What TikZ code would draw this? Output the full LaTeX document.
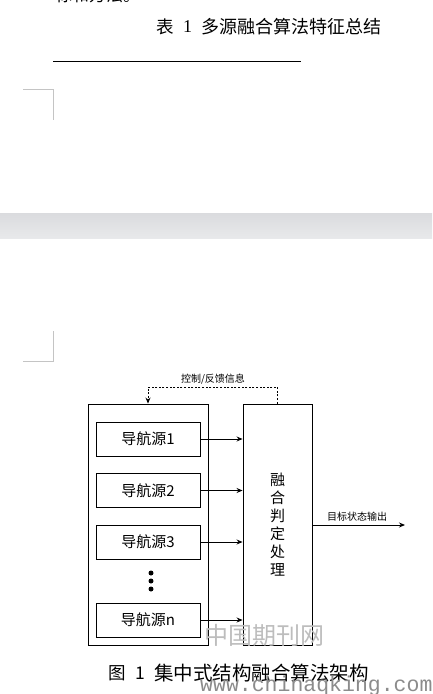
\documentclass[tikz,border=0pt]{standalone}
\usepackage{fontspec}
\setmainfont{Liberation Sans}
\newfontfamily\cjk{Noto Sans CJK SC}
\newfontfamily\wmono{Liberation Mono}
\newfontfamily\serifm{Liberation Serif}
\usetikzlibrary{arrows.meta}
\newcommand{\fsz}[1]{\fontsize{#1}{#1}\selectfont}
\definecolor{markgray}{HTML}{C4C4C4}
\definecolor{bandtop}{HTML}{DADBDE}
\definecolor{bandbot}{HTML}{E8E9EB}
\definecolor{wmgray}{HTML}{BDBDBD}
\definecolor{wmdark}{HTML}{8C8C8C}
\tikzset{
  srcbox/.style={draw=black, line width=0.9pt, minimum width=104pt, minimum height=34pt, inner sep=0pt, font=\cjk\fsz{15}},
  bigbox/.style={draw=black, line width=0.9pt, inner sep=0pt},
  arr/.style={line width=0.9pt, -{Stealth[length=6pt,width=5pt]}},
  fb/.style={line width=0.8pt, dash pattern=on 2pt off 1.6pt, -{Stealth[length=6pt,width=5pt]}},
  cornermark/.style={draw=markgray, line width=1pt},
  lbl/.style={font=\cjk\fsz{10}, inner sep=0pt},
  dotnode/.style={circle, fill=black, minimum size=5pt, inner sep=0pt},
}
\begin{document}
\begin{tikzpicture}[x=1pt,y=-1pt]
\useasboundingbox[fill=white] (0,0) rectangle (432,694);
% cropped text at top
\node[anchor=west, inner sep=0pt, font=\cjk\fsz{17}] (toptext) at (55,-5) {标和方法。};
% table title
\node[anchor=west, inner sep=0pt, font=\cjk\fsz{17.5}] (tt1) at (156,27) {表};
\node[anchor=west, inner sep=0pt, font=\serifm\fsz{18}] (tt2) at (183,27) {1};
\node[anchor=west, inner sep=0pt, font=\cjk\fsz{18}] (tt3) at (201,27) {多源融合算法特征总结};
% rule
\coordinate (ruleL) at (53,61);
\coordinate (ruleR) at (301,61);
\draw[line width=1pt] (ruleL) -- (ruleR);
% corner marks
\coordinate (m1a) at (23,89); \coordinate (m1b) at (53,89); \coordinate (m1c) at (53,120);
\draw[cornermark] (m1a) -- (m1b) -- (m1c);
\coordinate (m2a) at (53,331); \coordinate (m2b) at (53,361); \coordinate (m2c) at (23,361);
\draw[cornermark] (m2a) -- (m2b) -- (m2c);
% gray band
\shade[top color=bandtop, bottom color=bandbot] (0,213) rectangle (432,238);
% diagram
\node[bigbox, minimum width=120pt, minimum height=241pt] (outer) at (148,524.5) {};
\node[bigbox, minimum width=69pt, minimum height=241pt] (fuse) at (277.5,524.5) {};
\node[align=center, inner sep=0pt, font=\cjk\fontsize{15}{18}\selectfont] (fusetext) at (277.5,525) {融\\合\\判\\定\\处\\理};
\node[srcbox] (s1) at (148,439) {导航源1};
\node[srcbox] (s2) at (148,490.5) {导航源2};
\node[srcbox] (s3) at (148,542) {导航源3};
\node[srcbox] (sn) at (148,620) {导航源n};
\node[dotnode] (d1) at (151,573) {};
\node[dotnode] (d2) at (151,581) {};
\node[dotnode] (d3) at (151,589) {};
\draw[arr] (s1.east) -- (s1.east -| fuse.west);
\draw[arr] (s2.east) -- (s2.east -| fuse.west);
\draw[arr] (s3.east) -- (s3.east -| fuse.west);
\draw[arr] (sn.east) -- (sn.east -| fuse.west);
% feedback
\coordinate (fbL) at (148,387);
\draw[fb] (fuse.north) |- (fbL) -- (fbL |- outer.north);
\node[lbl] (fblabel) at (213,379) {控制/反馈信息};
% output
\coordinate (outEnd) at (405,525);
\draw[arr] (outEnd -| fuse.east) -- (outEnd);
\node[lbl] (outlabel) at (357,517) {目标状态输出};
% caption
\node[anchor=west, inner sep=0pt, font=\cjk\fsz{17.5}] (cap1) at (108,673) {图};
\node[anchor=west, inner sep=0pt, font=\cjk\fsz{17.5}] (cap2) at (135,673) {1};
\node[anchor=west, inner sep=0pt, font=\cjk\fsz{19.5}] (cap3) at (154,673) {集中式结构融合算法架构};
% watermark
\node[anchor=west, inner sep=0pt, font=\cjk\fsz{24}, text=wmgray] (wm1) at (204,635) {中国期刊网};
\node[anchor=west, inner sep=0pt, font=\wmono\fsz{21.5}, text=wmdark] (wm2) at (200,686) {www.chinaqking.com};
\end{tikzpicture}
\end{document}
